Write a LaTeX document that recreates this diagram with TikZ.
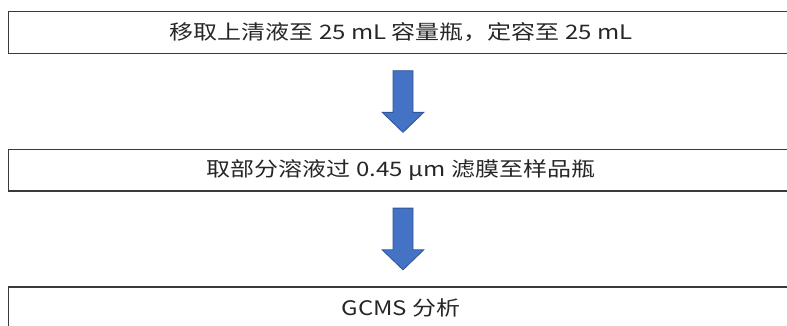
\documentclass[tikz,border=0pt]{standalone}
\usepackage{fontspec}
\setmainfont[FakeStretch=1.2]{Noto Sans CJK SC}
\usetikzlibrary{calc}
\definecolor{boxline}{HTML}{3A3A3A}
\definecolor{arrowfill}{HTML}{4472C4}
\definecolor{arrowline}{HTML}{2F5597}
\tikzset{
  stepbox/.style={draw=boxline, line width=1.1pt, rectangle, minimum width=588.75pt, inner sep=0pt, font=\fontsize{15}{17}\selectfont, text=black!85},
  downarrow/.style={fill=arrowfill, draw=arrowline, line width=0.6pt, line join=miter}
}
\begin{document}
\begin{tikzpicture}[x=0.75pt,y=-0.75pt]
\useasboundingbox (0,0) rectangle (787,325);
\clip (0,0) rectangle (787,325);
\node[stepbox, minimum height=31.5pt] (b1) at (401,32.5) {移取上清液至 25 mL 容量瓶，定容至 25 mL};
\node[stepbox, minimum height=31.1pt] (b2) at (401,170.25) {取部分溶液过 0.45 µm 滤膜至样品瓶};
\node[stepbox, minimum height=31.5pt] (b3) at (401,308) {GCMS 分析};
\coordinate (c1) at ($(b1.south)!0.5!(b2.north)+(2,0)$);
\coordinate (c2) at ($(b2.south)!0.5!(b3.north)+(2,0)$);
\foreach \c in {c1,c2}{
  \path[downarrow] (\c) ++(-10,-30.85) -- ++(20,0) -- ++(0,41.7) -- ++(10.8,0) -- ++(-20.8,20) -- ++(-20.8,-20) -- ++(10.8,0) -- cycle;
}
\end{tikzpicture}
\end{document}
